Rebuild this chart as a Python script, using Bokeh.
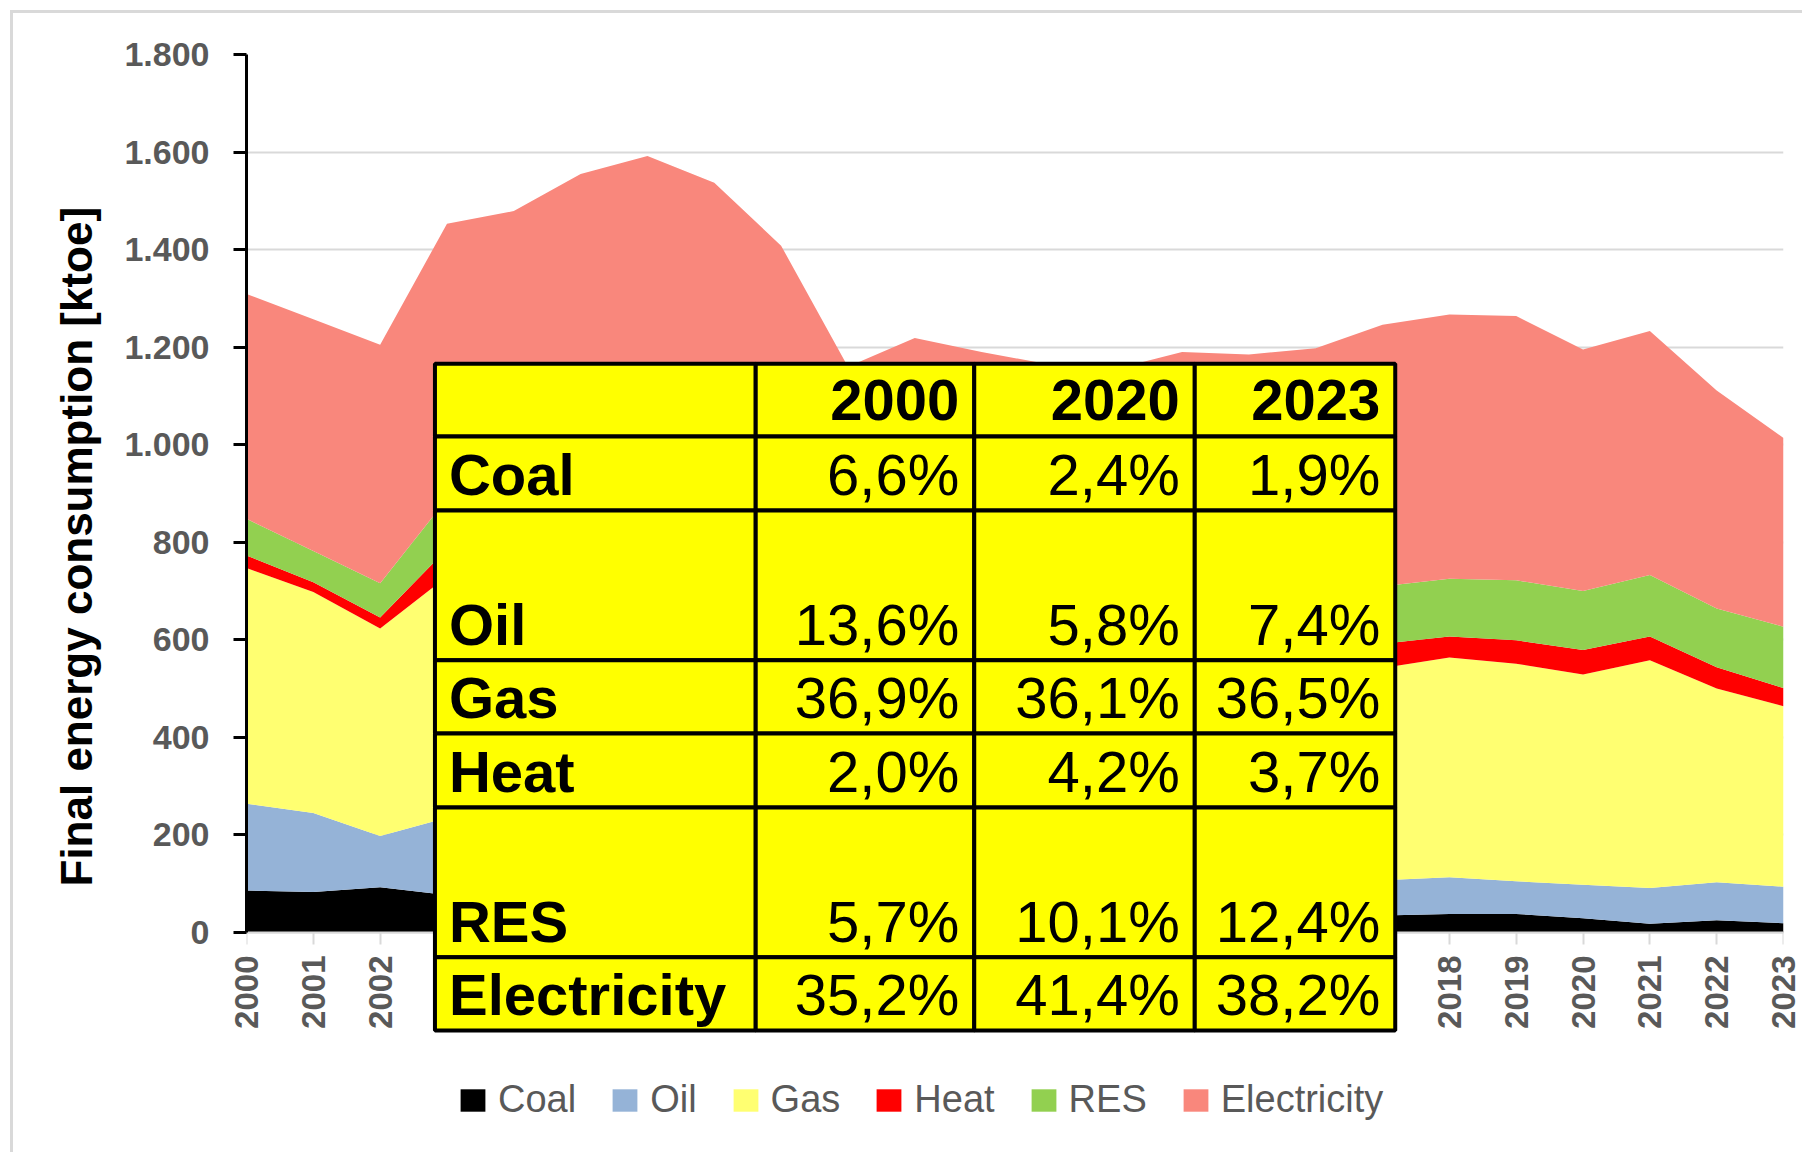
import math
from bokeh.plotting import figure
from bokeh.models import (ColumnDataSource, Range1d, FixedTicker, BoxAnnotation, Label, Legend,
                          LegendItem, LinearAxis, Title)
from bokeh.embed import file_html
from bokeh.resources import INLINE

# ---------------- data (ktoe) ----------------
years = list(range(2000, 2024))
coal = [86, 83, 93, 77, 75, 72, 70, 68, 62, 55, 52, 48, 45, 42, 40, 38, 36, 35, 38, 38, 29, 18, 25, 19]
oil = [178, 162, 105, 158, 160, 155, 150, 140, 125, 100, 95, 90, 85, 80, 78, 75, 73, 72, 75, 67, 69, 73, 78, 75]
gas = [483, 453, 425, 495, 500, 520, 530, 505, 470, 410, 440, 425, 410, 405, 420, 415, 425, 435, 451, 446, 431, 467, 397, 370]
heat = [26, 20, 23, 56, 40, 40, 42, 42, 42, 40, 42, 42, 44, 45, 46, 48, 49, 50, 43, 48, 50, 49, 44, 37]
res = [75, 64, 70, 103, 95, 95, 95, 95, 98, 100, 102, 105, 108, 110, 112, 115, 116, 118, 118, 123, 121, 126, 120, 126]
electricity = [461, 475, 489, 564, 609, 673, 705, 687, 611, 455, 488, 480, 473, 473, 494, 494, 499, 536, 542, 542, 495, 500, 447, 387]

series_names = ["Coal", "Oil", "Gas", "Heat", "RES", "Electricity"]
series_colors = ["#000000", "#95B3D7", "#FFFF71", "#FF0000", "#92D050", "#F9877C"]

y_ticks = [0, 200, 400, 600, 800, 1000, 1200, 1400, 1600, 1800]
y_tick_labels = ["0", "200", "400", "600", "800", "1.000", "1.200", "1.400", "1.600", "1.800"]
x_tick_labels = [str(y) for y in years]
y_title = "Final energy consumption  [ktoe]"

# table shown over the chart
table_cols = ["2000", "2020", "2023"]
table_rows = ["Coal", "Oil", "Gas", "Heat", "RES", "Electricity"]
share_2000 = ["6,6%", "13,6%", "36,9%", "2,0%", "5,7%", "35,2%"]
share_2020 = ["2,4%", "5,8%", "36,1%", "4,2%", "10,1%", "41,4%"]
share_2023 = ["1,9%", "7,4%", "36,5%", "3,7%", "12,4%", "38,2%"]

# ---------------- layout / style ----------------
GRAY = "#595959"
LIGHT = "#D9D9D9"
FONT = "Liberation Sans"
W, H = 1792, 1142
Y_START = -457.2          # frame reaches down to the canvas bottom (room for table + legend)
# table cell edges (data coordinates of the chart)
tab_x = [2002.82, 2007.62, 2010.89, 2014.19, 2017.19]
tab_y = [1166, 1017, 865, 558, 408, 256, -51, -201]

source = ColumnDataSource(dict(year=years, Coal=coal, Oil=oil, Gas=gas, Heat=heat,
                               RES=res, Electricity=electricity))

p = figure(width=W, height=H, title=None,
           x_range=Range1d(2000, 2023), y_range=Range1d(Y_START, 1800),
           x_axis_location="above",
           output_backend="svg", toolbar_location=None,
           min_border_left=233, min_border_right=22, min_border_top=41, min_border_bottom=0)
p.styles = {"margin-left": "10px", "margin-top": "10px",
            "border-left": "3px solid #D9D9D9", "border-top": "3px solid #D9D9D9"}
p.outline_line_color = None
p.background_fill_color = "white"
p.border_fill_color = "white"

renderers = p.varea_stack(stackers=series_names, x="year", color=series_colors, source=source)

# y axis
yax = p.yaxis[0]
yax.ticker = FixedTicker(ticks=y_ticks)
yax.bounds = (0, 1800)
yax.major_label_overrides = {t: l for t, l in zip(y_ticks, y_tick_labels)}
yax.axis_line_color = "black"
yax.axis_line_width = 3
yax.major_tick_line_color = "black"
yax.major_tick_line_width = 3
yax.major_tick_out = 13
yax.major_tick_in = 0
yax.minor_tick_line_color = None
yax.major_label_text_font = FONT
yax.major_label_text_font_style = "bold"
yax.major_label_text_font_size = "34px"
yax.major_label_text_color = GRAY
yax.major_label_standoff = 24

p.add_layout(Title(text=y_title, align="left", offset=269, standoff=42,
                   text_font=FONT, text_font_style="bold", text_font_size="44px",
                   text_color="black"), "left")

# x axis line and ticks, drawn at value 0
xax = p.xaxis[0]
xax.fixed_location = 0
xax.ticker = FixedTicker(ticks=years)
xax.major_label_overrides = {y: "" for y in years}
xax.axis_line_color = LIGHT
xax.axis_line_width = 2
xax.major_tick_line_color = LIGHT
xax.major_tick_line_width = 2
xax.major_tick_out = 0
xax.major_tick_in = 12
xax.minor_tick_line_color = None

# x tick labels (year), below the value-0 line
xlab = LinearAxis(ticker=FixedTicker(ticks=years),
                  major_label_overrides={y: l for y, l in zip(years, x_tick_labels)},
                  axis_line_color=None, major_tick_line_color=None, minor_tick_line_color=None,
                  major_tick_out=0, major_tick_in=0,
                  major_label_orientation=math.pi / 2,
                  major_label_text_font=FONT, major_label_text_font_style="bold",
                  major_label_text_font_size="33px", major_label_text_color=GRAY,
                  major_label_standoff=-200)
p.add_layout(xlab, "below")

p.xgrid.grid_line_color = None
p.ygrid.grid_line_color = LIGHT
p.ygrid.grid_line_width = 2

# legend
legend = Legend(items=[LegendItem(label=n, renderers=[r]) for n, r in zip(series_names, renderers)],
                location=(211, 34), orientation="horizontal",
                glyph_width=31, glyph_height=28, label_standoff=10, spacing=33,
                label_text_font=FONT, label_text_font_size="38px", label_text_color=GRAY,
                label_height=40, padding=0, margin=0,
                border_line_color=None, background_fill_alpha=0)
p.add_layout(legend)

# table cells
for ri in range(len(table_rows) + 1):
    for ci in range(len(table_cols) + 1):
        p.add_layout(BoxAnnotation(left=tab_x[ci], right=tab_x[ci + 1],
                                   top=tab_y[ri], bottom=tab_y[ri + 1],
                                   fill_color="#FFFF00", fill_alpha=1,
                                   line_color="black", line_alpha=1, line_width=4))

TFS = "58px"
YOFF = 36
shares = [share_2000, share_2020, share_2023]
for ci, c in enumerate(table_cols):
    p.add_layout(Label(x=tab_x[ci + 2], y=tab_y[1], x_offset=-15, y_offset=YOFF, text=c,
                       text_align="right", text_baseline="alphabetic",
                       text_font=FONT, text_font_style="bold", text_font_size=TFS, text_color="black"))
for ri, r in enumerate(table_rows):
    yb = tab_y[ri + 2]
    p.add_layout(Label(x=tab_x[0], y=yb, x_offset=14, y_offset=YOFF, text=r,
                       text_align="left", text_baseline="alphabetic",
                       text_font=FONT, text_font_style="bold", text_font_size=TFS, text_color="black"))
    for ci in range(3):
        p.add_layout(Label(x=tab_x[ci + 2], y=yb, x_offset=-15, y_offset=YOFF, text=shares[ci][ri],
                           text_align="right", text_baseline="alphabetic",
                           text_font=FONT, text_font_size=TFS, text_color="black"))

open("out.html", "w").write(file_html(p, INLINE))
